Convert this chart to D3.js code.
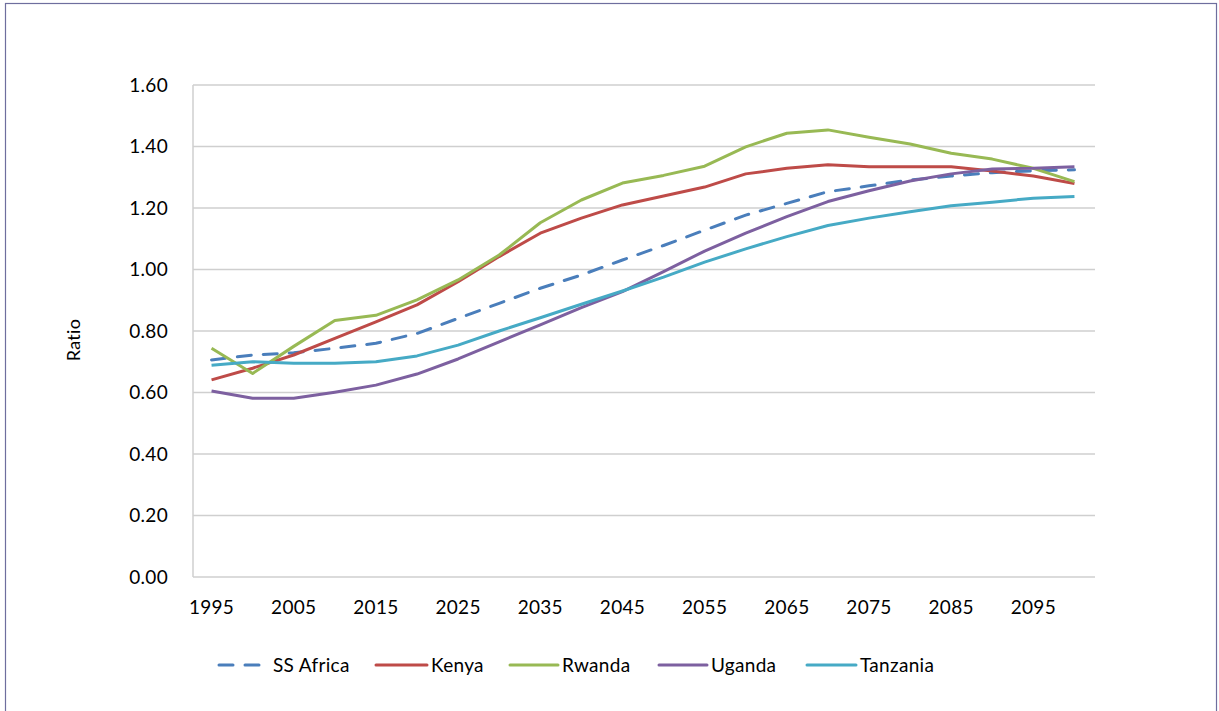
<!DOCTYPE html>
<html>
<head>
<meta charset="utf-8">
<script src="https://cdn.jsdelivr.net/npm/d3@7"></script>
<style>
  body { margin: 0; background: #fff; }
  text { font-family: Lato, "Open Sans", sans-serif; fill: #000; letter-spacing: 0.3px; }
</style>
</head>
<body>
<svg id="chart" width="1219" height="711"></svg>
<script>
const years = d3.range(1995, 2101, 5);
const yTicks = [0, 0.2, 0.4, 0.6, 0.8, 1.0, 1.2, 1.4, 1.6];

const ssAfrica = [0.706, 0.722, 0.729, 0.744, 0.760, 0.792, 0.841, 0.890, 0.939, 0.982, 1.031,
  1.078, 1.128, 1.177, 1.215, 1.253, 1.272, 1.291, 1.304, 1.315, 1.321, 1.324];
const kenya = [0.641, 0.679, 0.722, 0.776, 0.830, 0.885, 0.960, 1.042, 1.118, 1.167, 1.210,
  1.239, 1.268, 1.311, 1.329, 1.341, 1.334, 1.334, 1.334, 1.320, 1.304, 1.280];
const rwanda = [0.744, 0.662, 0.750, 0.834, 0.851, 0.901, 0.966, 1.047, 1.152, 1.226, 1.281,
  1.306, 1.336, 1.399, 1.443, 1.454, 1.430, 1.408, 1.378, 1.359, 1.329, 1.286];
const uganda = [0.605, 0.581, 0.581, 0.601, 0.624, 0.660, 0.709, 0.765, 0.820, 0.876, 0.928,
  0.993, 1.060, 1.118, 1.172, 1.221, 1.256, 1.288, 1.311, 1.327, 1.329, 1.334];
const tanzania = [0.689, 0.700, 0.695, 0.695, 0.700, 0.719, 0.754, 0.800, 0.843, 0.887, 0.930,
  0.975, 1.024, 1.067, 1.107, 1.143, 1.167, 1.188, 1.207, 1.219, 1.232, 1.237];

const series = [
  {name: "SS Africa", values: ssAfrica, color: "#4a7ebb", dash: "14,12"},
  {name: "Kenya", values: kenya, color: "#be4b48", dash: null},
  {name: "Rwanda", values: rwanda, color: "#98b954", dash: null},
  {name: "Uganda", values: uganda, color: "#7d60a0", dash: null},
  {name: "Tanzania", values: tanzania, color: "#46aac5", dash: null}
];

const svg = d3.select("#chart");
const plot = {left: 191, right: 1095, top: 85, bottom: 577};

// outer frame
svg.append("rect")
    .attr("x", 5.5).attr("y", 3.5)
    .attr("width", 1211).attr("height", 720)
    .attr("fill", "none")
    .attr("stroke", "#6e6e9e")
    .attr("stroke-width", 1.2);

const x = d3.scalePoint().domain(years).range([plot.left, plot.right]).padding(0.5);
const y = d3.scaleLinear().domain([0, 1.6]).range([plot.bottom, plot.top]);

// gridlines
svg.append("g")
  .selectAll("line")
  .data(yTicks)
  .join("line")
    .attr("x1", plot.left + 2).attr("x2", plot.right)
    .attr("y1", d => y(d)).attr("y2", d => y(d))
    .attr("stroke", "#cfcfcf")
    .attr("stroke-width", 1.5);

// y axis line
svg.append("line")
    .attr("x1", plot.left + 2).attr("x2", plot.left + 2)
    .attr("y1", plot.top).attr("y2", plot.bottom)
    .attr("stroke", "#cfcfcf")
    .attr("stroke-width", 1.5);

// y tick labels
svg.append("g")
  .selectAll("text")
  .data(yTicks)
  .join("text")
    .attr("x", 168)
    .attr("y", d => y(d))
    .attr("dy", "0.35em")
    .attr("text-anchor", "end")
    .style("font-size", "19px")
    .text(d3.format(".2f"));

// x tick labels
svg.append("g")
  .selectAll("text")
  .data(years.filter((d, i) => i % 2 === 0))
  .join("text")
    .attr("x", d => x(d))
    .attr("y", 607)
    .attr("dy", "0.35em")
    .attr("text-anchor", "middle")
    .style("font-size", "19px")
    .text(d => d);

// y axis title
svg.append("text")
    .attr("transform", "translate(80,340) rotate(-90)")
    .attr("text-anchor", "middle")
    .style("font-size", "18px")
    .text("Ratio");

const line = d3.line()
    .x((d, i) => x(years[i]))
    .y(d => y(d));

svg.append("g")
  .selectAll("path")
  .data(series)
  .join("path")
    .attr("d", d => line(d.values))
    .attr("fill", "none")
    .attr("stroke", d => d.color)
    .attr("stroke-width", 3)
    .attr("stroke-linejoin", "round")
    .attr("stroke-linecap", d => d.dash ? "round" : "butt")
    .attr("stroke-dasharray", d => d.dash);

// legend
const legendX = [219, 376, 510, 659, 807];
const legendW = [40, 51, 48, 48, 49];
const lg = svg.append("g")
  .selectAll("g")
  .data(series)
  .join("g")
    .attr("transform", (d, i) => "translate(" + legendX[i] + ",665)");

lg.append("line")
    .attr("x1", 0)
    .attr("x2", (d, i) => legendW[i])
    .attr("stroke", d => d.color)
    .attr("stroke-width", 3)
    .attr("stroke-linecap", "round")
    .attr("stroke-dasharray", d => d.dash);

lg.append("text")
    .attr("x", (d, i) => legendW[i] + (i === 0 ? 14 : 4))
    .attr("dy", "0.35em")
    .style("font-size", "19px")
    .text(d => d.name);
</script>
</body>
</html>
